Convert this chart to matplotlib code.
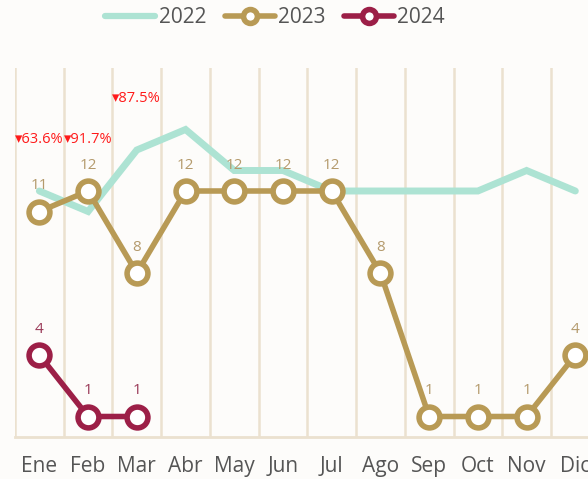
import matplotlib
matplotlib.use("Agg")
import matplotlib.pyplot as plt
from matplotlib.lines import Line2D

months = ["Ene", "Feb", "Mar", "Abr", "May", "Jun", "Jul", "Ago", "Sep", "Oct", "Nov", "Dic"]
v2022 = [12, 11, 14, 15, 13, 13, 12, 12, 12, 12, 13, 12]
v2023 = [11, 12, 8, 12, 12, 12, 12, 8, 1, 1, 1, 4]
v2024 = [4, 1, 1]
pct_labels = ["▾63.6%", "▾91.7%", "▾87.5%"]

c22 = "#ade3d3"
c23 = "#b89a55"
c23t = "#b49a6c"
c24 = "#9c1f47"
c24t = "#9a3a58"
grid_c = "#ebe1cf"
txt_c = "#555555"

plt.rcParams['font.family'] = ['Open Sans', 'DejaVu Sans']

fig = plt.figure(figsize=(5.88, 4.79), dpi=100)
fig.patch.set_facecolor("#fdfcfa")
ax = fig.add_axes([15/588, 1-437/479, 1-15/588, (437-68)/479])
ax.set_facecolor("none")

x = list(range(len(months)))
ax.set_xlim(-0.5, 11.26)
ax.set_ylim(0, 18)

for gx in [i + 0.5 for i in range(-1, 12)]:
    ax.axvline(gx, color=grid_c, lw=1.8, zorder=0)

ax.plot(x, v2022, color=c22, lw=5, solid_capstyle="round", solid_joinstyle="miter", zorder=2)
ax.plot(x, v2023, color=c23, lw=4, marker="o", ms=15, mfc="white", mec=c23, mew=4, zorder=3)
ax.plot(x[:len(v2024)], v2024, color=c24, lw=4, marker="o", ms=15, mfc="white", mec=c24, mew=4, zorder=4)

for i, v in enumerate(v2023):
    ax.annotate(str(v), (i, v), xytext=(0, 13), textcoords="offset points",
                ha="center", va="bottom", color=c23t, fontsize=11, zorder=5)
for i, v in enumerate(v2024):
    ax.annotate(str(v), (i, v), xytext=(0, 13), textcoords="offset points",
                ha="center", va="bottom", color=c24t, fontsize=11, zorder=5)
for i, lab in enumerate(pct_labels):
    top = max(v2022[i], v2023[i], v2024[i])
    ax.annotate(lab, (i, top), xytext=(0, 32), textcoords="offset points",
                ha="center", va="bottom", color="#ff1a1a", fontsize=10.5, zorder=5)

ax.set_xticks(x)
ax.set_xticklabels(months, fontsize=15, color=txt_c)
ax.tick_params(axis="x", length=0, pad=14)
ax.set_yticks([])
for s in ["top", "right", "left"]:
    ax.spines[s].set_visible(False)
ax.spines["bottom"].set_color(grid_c)
ax.spines["bottom"].set_linewidth(2)

handles = [
    Line2D([], [], color=c22, lw=4.5, solid_capstyle="round"),
    Line2D([], [], color=c23, lw=4, marker="o", ms=10, mfc="white", mec=c23, mew=4, solid_capstyle="round"),
    Line2D([], [], color=c24, lw=4, marker="o", ms=10, mfc="white", mec=c24, mew=4, solid_capstyle="round"),
]
leg = fig.legend(handles, ["2022", "2023", "2024"], loc="center", bbox_to_anchor=(0.468, 0.963),
                 ncol=3, frameon=False, fontsize=15, handlelength=2.4, handletextpad=0.15,
                 columnspacing=0.9, borderpad=0)
for t in leg.get_texts():
    t.set_color(txt_c)

fig.savefig("out.png", dpi=100, facecolor=fig.get_facecolor())
